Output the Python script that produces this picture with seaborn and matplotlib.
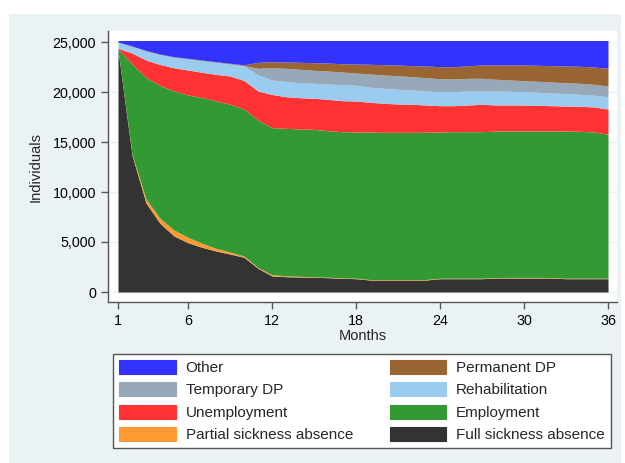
import matplotlib
matplotlib.use("Agg")
import matplotlib.pyplot as plt
import numpy as np
import pandas as pd
import seaborn as sns
from matplotlib.patches import Rectangle, Patch
from matplotlib.ticker import FuncFormatter

months = list(range(1, 37))
full_sickness = [24200, 13700, 8900, 6870, 5600, 4930, 4470, 4100, 3800, 3470, 2370, 1600,
                 1530, 1500, 1470, 1430, 1370, 1330, 1200, 1200, 1200, 1200, 1200, 1330,
                 1330, 1330, 1330, 1400, 1400, 1400, 1400, 1400, 1330, 1330, 1330, 1330]
partial_sickness = [30, 100, 400, 500, 600, 540, 400, 270, 200, 130, 80, 130,
                    90, 70, 50, 50, 50, 50, 50, 50, 50, 50, 50, 50,
                    50, 50, 50, 50, 60, 60, 60, 50, 50, 50, 50, 50]
employment = [100, 9000, 12150, 13280, 13900, 14230, 14580, 14730, 14780, 14700, 14750, 14700,
              14750, 14730, 14750, 14650, 14610, 14620, 14750, 14720, 14720, 14720, 14730, 14620,
              14650, 14650, 14650, 14650, 14640, 14640, 14640, 14650, 14720, 14690, 14620, 14390]
unemployment = [50, 1100, 1750, 2100, 2320, 2500, 2520, 2670, 2820, 2850, 2900, 3320,
                3160, 3130, 3100, 3140, 3100, 3100, 2970, 2900, 2830, 2800, 2720, 2630,
                2600, 2670, 2740, 2600, 2600, 2600, 2570, 2530, 2500, 2500, 2500, 2530]
rehabilitation = [600, 670, 920, 1010, 1070, 1130, 1180, 1210, 1220, 1450, 1600, 1450,
                  1500, 1500, 1500, 1530, 1600, 1570, 1500, 1500, 1470, 1430, 1400, 1400,
                  1400, 1400, 1330, 1400, 1370, 1330, 1300, 1270, 1230, 1200, 1170, 1230]
temporary_dp = [0, 0, 0, 0, 0, 0, 0, 0, 0, 50, 670, 1230,
                1340, 1340, 1300, 1300, 1270, 1230, 1330, 1330, 1360, 1330, 1330, 1300,
                1270, 1270, 1270, 1170, 1130, 1100, 1100, 1100, 1100, 1100, 1100, 1070]
permanent_dp = [20, 30, 30, 40, 40, 40, 50, 50, 50, 70, 600, 600,
                630, 700, 760, 800, 830, 900, 970, 1030, 1070, 1100, 1170, 1200,
                1230, 1260, 1330, 1430, 1500, 1570, 1600, 1630, 1670, 1700, 1730, 1770]
other = [150, 550, 1000, 1350, 1620, 1780, 1950, 2120, 2280, 2430, 2180, 2120,
         2150, 2180, 2220, 2250, 2320, 2350, 2380, 2420, 2450, 2520, 2550, 2620,
         2620, 2520, 2450, 2450, 2450, 2450, 2480, 2520, 2550, 2580, 2650, 2780]

# top-to-bottom stacking order
status_order = ["Other", "Permanent DP", "Temporary DP", "Rehabilitation",
                "Unemployment", "Employment", "Partial sickness absence", "Full sickness absence"]
series = {
    "Other": other,
    "Permanent DP": permanent_dp,
    "Temporary DP": temporary_dp,
    "Rehabilitation": rehabilitation,
    "Unemployment": unemployment,
    "Employment": employment,
    "Partial sickness absence": partial_sickness,
    "Full sickness absence": full_sickness,
}
colors = {
    "Other": "#3333FF",
    "Permanent DP": "#996633",
    "Temporary DP": "#97A8B9",
    "Rehabilitation": "#99CCEE",
    "Unemployment": "#FF3333",
    "Employment": "#339933",
    "Partial sickness absence": "#FF9933",
    "Full sickness absence": "#333333",
}
legend_rows = [("Other", "Permanent DP"), ("Temporary DP", "Rehabilitation"),
               ("Unemployment", "Employment"), ("Partial sickness absence", "Full sickness absence")]

df = pd.DataFrame([
    {"Months": m, "Status": s, "Individuals": v}
    for s in status_order for m, v in zip(months, series[s])
])

sns.set_style("ticks")
plt.rcParams["font.family"] = ["Liberation Sans", "DejaVu Sans"]

W, H = 625, 463
fig = plt.figure(figsize=(W / 100, H / 100), dpi=100, facecolor="white")
bg = Rectangle((9 / W, 0), (621 - 9) / W, 1 - 14 / H, transform=fig.transFigure,
               facecolor="#EAF2F3", edgecolor="none", zorder=-10)
fig.patches.append(bg)

ax = fig.add_axes([108 / W, 1 - 302 / H, (617 - 108) / W, (302 - 31) / H])
ax.set_facecolor("white")

sns.histplot(data=df, x="Months", weights="Individuals", hue="Status",
             hue_order=status_order, palette=colors, multiple="stack",
             element="poly", discrete=True, alpha=1, linewidth=0,
             legend=False, ax=ax)

ax.set_xlim(1 - 10 / 14, 36 + 9 / 14)
ax.set_ylim(-1000, 26100)
ax.set_xticks([1, 6, 12, 18, 24, 30, 36])
ax.set_yticks([0, 5000, 10000, 15000, 20000, 25000])
ax.yaxis.set_major_formatter(FuncFormatter(lambda v, p: f"{int(v):,}"))
ax.grid(axis="y", color="#EAF2F3", linewidth=1)
ax.set_axisbelow(True)

for s in ["top", "right"]:
    ax.spines[s].set_visible(False)
for s in ["left", "bottom"]:
    ax.spines[s].set_color("#555555")
    ax.spines[s].set_linewidth(1)
ax.tick_params(axis="both", direction="out", length=5, width=1, color="#555555",
               labelsize=10.3, labelcolor="black", pad=3.5)

ax.set_xlabel("Months", fontsize=10.5)
ax.set_ylabel("Individuals", fontsize=10.5)
ax.xaxis.set_label_coords(0.501, -0.10)
ax.yaxis.set_label_coords(-0.128, 0.5)

# legend (column-major order for a row-wise 2-column layout)
col1 = [r[0] for r in legend_rows]
col2 = [r[1] for r in legend_rows]
labels = col1 + col2
handles = [Patch(facecolor=colors[l], edgecolor=colors[l], linewidth=0.8) for l in labels]
leg = fig.legend(handles, labels, ncol=2, mode="expand", loc="center",
                 bbox_to_anchor=(113 / W, 1 - 449 / H, 498 / W, 96 / H),
                 bbox_transform=fig.transFigure, frameon=True, fancybox=False,
                 edgecolor="#555555", facecolor="white", framealpha=1,
                 prop={"size": 11}, handlelength=3.7, handleheight=1.05,
                 handletextpad=0.65, labelspacing=0.47, borderpad=0.4,
                 borderaxespad=0)
leg.get_frame().set_linewidth(1)

fig.savefig("out.png", dpi=100, facecolor="white")
